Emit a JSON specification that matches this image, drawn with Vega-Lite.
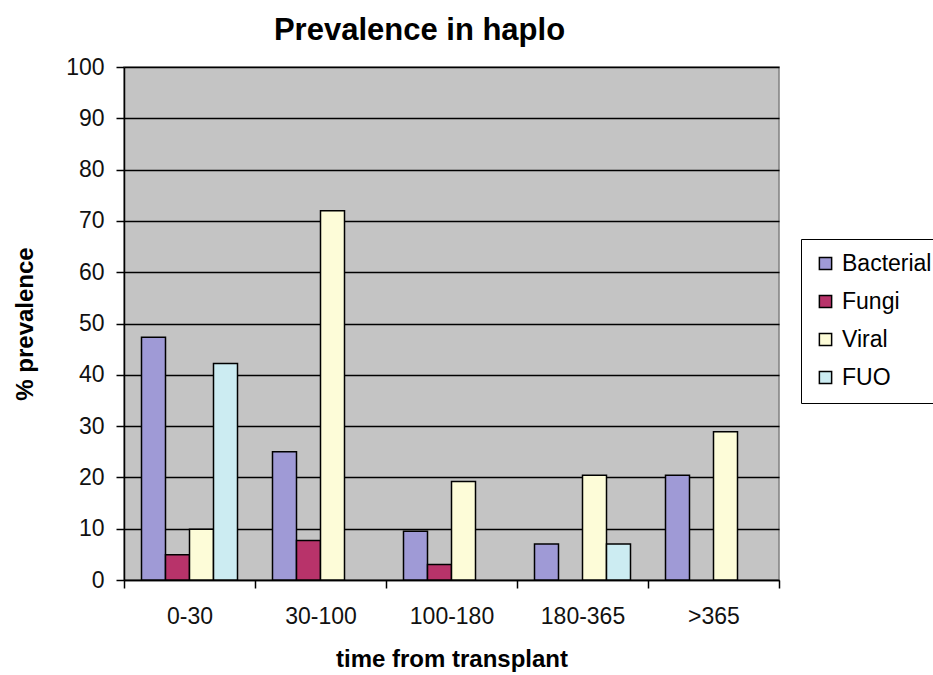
{
  "$schema": "https://vega.github.io/schema/vega-lite/v6.json",
  "width": 655,
  "height": 513,
  "autosize": {"type": "none"},
  "padding": {"left": 124, "top": 67, "right": 154, "bottom": 95},
  "background": "white",
  "config": {
    "font": "Liberation Sans",
    "view": {"fill": "#C4C4C4", "stroke": "#808080", "strokeWidth": 1.5}
  },
  "title": {
    "text": "Prevalence in haplo",
    "fontSize": 31,
    "fontWeight": "bold",
    "font": "Liberation Sans",
    "color": "black",
    "frame": "group",
    "anchor": "middle",
    "dx": -32,
    "baseline": "alphabetic",
    "offset": -15
  },
  "data": {
    "values": [
      {"time": "0-30", "type": "Bacterial", "value": 47.3},
      {"time": "0-30", "type": "Fungi", "value": 4.9},
      {"time": "0-30", "type": "Viral", "value": 9.9},
      {"time": "0-30", "type": "FUO", "value": 42.2},
      {"time": "30-100", "type": "Bacterial", "value": 25.0},
      {"time": "30-100", "type": "Fungi", "value": 7.7},
      {"time": "30-100", "type": "Viral", "value": 72.0},
      {"time": "30-100", "type": "FUO", "value": 0},
      {"time": "100-180", "type": "Bacterial", "value": 9.5},
      {"time": "100-180", "type": "Fungi", "value": 3.0},
      {"time": "100-180", "type": "Viral", "value": 19.2},
      {"time": "100-180", "type": "FUO", "value": 0},
      {"time": "180-365", "type": "Bacterial", "value": 7.0},
      {"time": "180-365", "type": "Fungi", "value": 0},
      {"time": "180-365", "type": "Viral", "value": 20.4},
      {"time": "180-365", "type": "FUO", "value": 7.0},
      {"time": ">365", "type": "Bacterial", "value": 20.4},
      {"time": ">365", "type": "Fungi", "value": 0},
      {"time": ">365", "type": "Viral", "value": 28.9},
      {"time": ">365", "type": "FUO", "value": 0}
    ]
  },
  "transform": [{"filter": "datum.value > 0"}],
  "mark": {"type": "bar", "stroke": "black", "strokeWidth": 1.5},
  "encoding": {
    "x": {
      "field": "time",
      "type": "nominal",
      "sort": ["0-30", "30-100", "100-180", "180-365", ">365"],
      "scale": {"paddingInner": 0, "paddingOuter": 0},
      "axis": {
        "title": "time from transplant",
        "titleFontSize": 24,
        "titleFontWeight": "bold",
        "titleColor": "black",
        "titlePadding": 19,
        "labelAngle": 0,
        "labelFontSize": 23,
        "labelColor": "#111111",
        "labelPadding": 17,
        "tickBand": "extent",
        "tickSize": 8,
        "tickColor": "black",
        "tickWidth": 1.5,
        "domainColor": "black",
        "domainWidth": 1.5
      }
    },
    "xOffset": {
      "field": "type",
      "type": "nominal",
      "sort": ["Bacterial", "Fungi", "Viral", "FUO"],
      "scale": {"domain": ["Bacterial", "Fungi", "Viral", "FUO"], "paddingInner": 0, "paddingOuter": 0.729}
    },
    "y": {
      "field": "value",
      "type": "quantitative",
      "scale": {"domain": [0, 100], "nice": false},
      "axis": {
        "title": "% prevalence",
        "titleFontSize": 24,
        "titleFontWeight": "bold",
        "titleColor": "black",
        "titlePadding": 28,
        "values": [0, 10, 20, 30, 40, 50, 60, 70, 80, 90, 100],
        "labelFontSize": 23,
        "labelColor": "#111111",
        "labelPadding": 12,
        "tickSize": 8,
        "tickColor": "black",
        "tickWidth": 1.5,
        "grid": true,
        "gridColor": "black",
        "gridWidth": 1.5,
        "domainColor": "black",
        "domainWidth": 1.5
      }
    },
    "color": {
      "field": "type",
      "type": "nominal",
      "sort": ["Bacterial", "Fungi", "Viral", "FUO"],
      "scale": {
        "domain": ["Bacterial", "Fungi", "Viral", "FUO"],
        "range": ["#9F9AD6", "#B8336A", "#FDFCD8", "#CCECF2"]
      },
      "legend": {
        "title": null,
        "orient": "none",
        "legendX": 677,
        "legendY": 172,
        "fillColor": "white",
        "strokeColor": "black",
        "padding": 13,
        "symbolType": "square",
        "symbolSize": 150,
        "symbolStrokeColor": "black",
        "symbolStrokeWidth": 1.5,
        "labelFontSize": 23,
        "labelColor": "black",
        "labelOffset": 5,
        "rowPadding": 14,
        "labelLimit": 200
      }
    }
  }
}
